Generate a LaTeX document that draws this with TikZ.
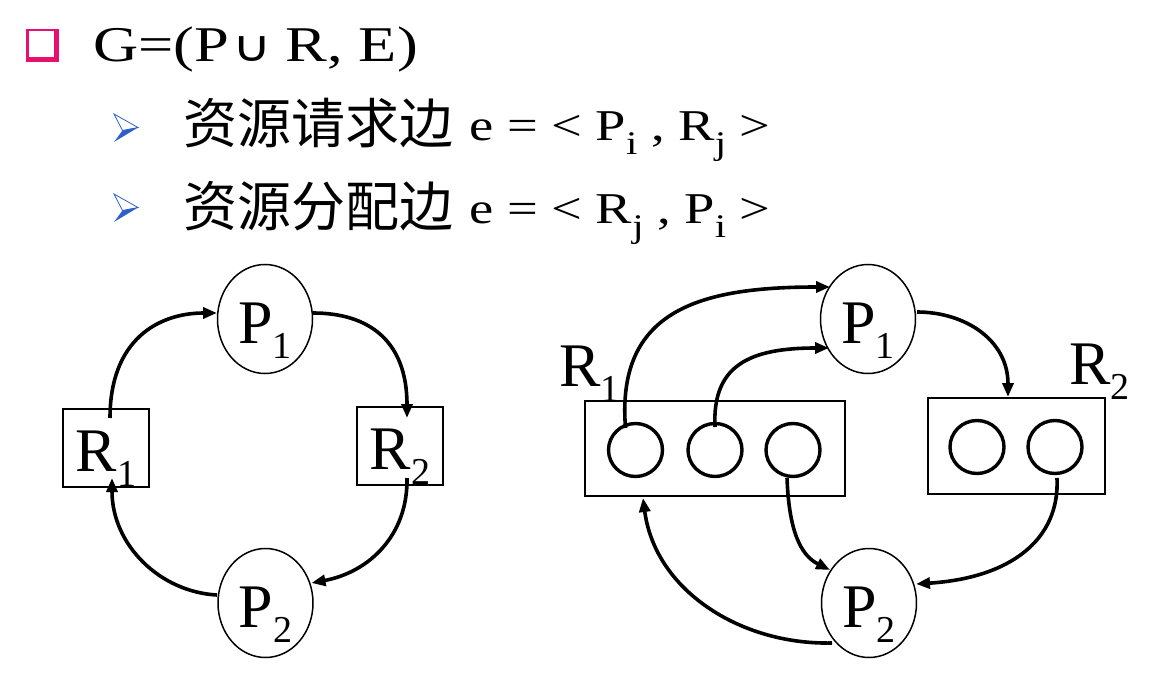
\documentclass[tikz,border=0pt]{standalone}
\usepackage{fontspec}
\setmainfont{Liberation Serif}
\newfontfamily\lserif{Liberation Serif}
\newfontfamily\cjk{Noto Sans CJK SC}
\newfontfamily\djs{DejaVu Sans}
\usepackage{graphicx}
\usetikzlibrary{shapes.geometric,arrows.meta,calc}
\definecolor{bpink}{RGB}{232,16,110}
\definecolor{bblue}{RGB}{47,95,205}
\newcommand\labfont{\lserif\fontsize{62}{62}\selectfont}
\newcommand\sbs[1]{\raisebox{-15pt}{\lserif\fontsize{38}{38}\selectfont #1}}
\newcommand\fsub[1]{\raisebox{-14pt}{\lserif\fontsize{33}{33}\selectfont #1}}
\tikzset{
  proc/.style={ellipse, draw, line width=1.5pt, minimum width=95pt, minimum height=109pt,
    inner sep=0pt, text height=60pt, text depth=12pt, font=\labfont},
  resL/.style={rectangle, draw, line width=2pt, minimum width=86pt, minimum height=78pt,
    inner sep=0pt, text height=60pt, text depth=12pt, font=\labfont},
  resbox/.style={rectangle, draw, line width=2pt, inner sep=0pt},
  inst/.style={ellipse, draw, line width=3.4pt, minimum width=54pt, minimum height=53pt, inner sep=0pt},
  lbl/.style={anchor=base west, inner sep=0pt, font=\labfont},
  txt/.style={anchor=base west, inner sep=0pt},
  edgearr/.style={line width=3.6pt, -{Triangle[length=14pt,width=11pt]}},
}
\begin{document}
\begin{tikzpicture}[x=1pt,y=-1pt]
\fill[white] (0,0) rectangle (1157,679);
\useasboundingbox (0,0) rectangle (1157,679);

% bullets
\fill[bpink] (26,29) rectangle (59,62);
\fill[white] (28.5,31.5) rectangle (54,57);
\filldraw[bblue, fill=white, line width=0.8pt] (114,114) -- (138,127.5) -- (122.5,130.5) -- cycle;
\fill[bblue] (122.5,130.5) -- (138,127.5) -- (114,142) -- cycle;
\filldraw[bblue, fill=white, line width=0.8pt] (114,194) -- (138,207.5) -- (122.5,210.5) -- cycle;
\fill[bblue] (122.5,210.5) -- (138,207.5) -- (114,222) -- cycle;

% text lines
\node[txt] (title) at (93,62) {\lserif\fontsize{50}{50}\selectfont\scalebox{1.25}[1]{G=(P\hspace{3pt}{\djs\fontsize{43}{43}\selectfont ∪}\hspace{11pt}R, E)}};
\node[txt] (req) at (183,144) {\fontsize{54}{54}\selectfont\cjk 资源请求边};
\node[txt] (reqf) at (469,141) {\lserif\fontsize{44}{44}\selectfont\scalebox{1.24}[1]{e = < P\fsub{i} , R\fsub{j} >}};
\node[txt] (asg) at (183,227) {\fontsize{54}{54}\selectfont\cjk 资源分配边};
\node[txt] (asgf) at (469,224) {\lserif\fontsize{44}{44}\selectfont\scalebox{1.24}[1]{e = < R\fsub{j} , P\fsub{i} >}};

% left graph
\node[proc] (P1L) at (265,319) {P\sbs{1}};
\node[proc] (P2L) at (265.5,603) {P\sbs{2}};
\node[resL] (R1L) at (106,447.5) {R\sbs{1}};
\node[resL] (R2L) at (400,445.5) {R\sbs{2}};

\draw[edgearr] ($(R1L)+(4,-29.5)$) .. controls +(0,-78) and +(-59,0) .. ($(P1L)+(-48,-6)$);
\draw[edgearr] ($(P1L)+(48,-6)$) .. controls +(55,0) and +(0,-78) .. ($(R2L)+(7,-27.5)$);
\draw[edgearr] ($(R2L)+(7,32.5)$) .. controls +(1,57) and +(58,-11) .. ($(P2L)+(46,-20)$);
\draw[edgearr] ($(P2L)+(-48.5,-8)$) .. controls +(-57,-3) and +(0,67) .. ($(R1L)+(6,30.5)$);

% right graph
\node[proc] (P1R) at (868,319) {P\sbs{1}};
\node[proc] (P2R) at (869,603) {P\sbs{2}};
\node[resbox, minimum width=260pt, minimum height=95pt] (R1R) at (715,448.5) {};
\node[resbox, minimum width=177pt, minimum height=96pt] (R2R) at (1016.5,446) {};
\node[lbl] (R1Rl) at (559,386) {R\sbs{1}};
\node[lbl] (R2Rl) at (1069,384) {R\sbs{2}};
\node[inst] (c1) at (635.5,450) {};
\node[inst] (c2) at (715,450) {};
\node[inst] (c3) at (793,450) {};
\node[inst] (d1) at (977,447) {};
\node[inst] (d2) at (1055,447) {};

\draw[edgearr] ($(c1)+(-10,-22)$) .. controls +(-9.5,-118) and +(-130,0) .. ($(P1R)+(-38,-32)$);
\draw[edgearr] ($(c2)+(0,-23)$) .. controls +(-3,-62) and +(-79,0) .. ($(P1R)+(-39,29)$);
\draw[edgearr] ($(P1R)+(49,-7)$) .. controls +(48,0) and +(0,-57) .. ($(R2R)+(-8.5,-49)$);
\draw[edgearr] ($(c3)+(-6,28)$) .. controls +(2,52) and +(-30,-15) .. ($(P2R)+(-39,-33)$);
\draw[edgearr] ($(P2R)+(-37,40)$) .. controls +(-92,2) and +(12,92) .. ($(R1R)+(-72,49.5)$);
\draw[edgearr] ($(d2)+(2,31)$) .. controls +(3,62) and +(94,-6) .. ($(P2R)+(47,-19)$);
\end{tikzpicture}
\end{document}
